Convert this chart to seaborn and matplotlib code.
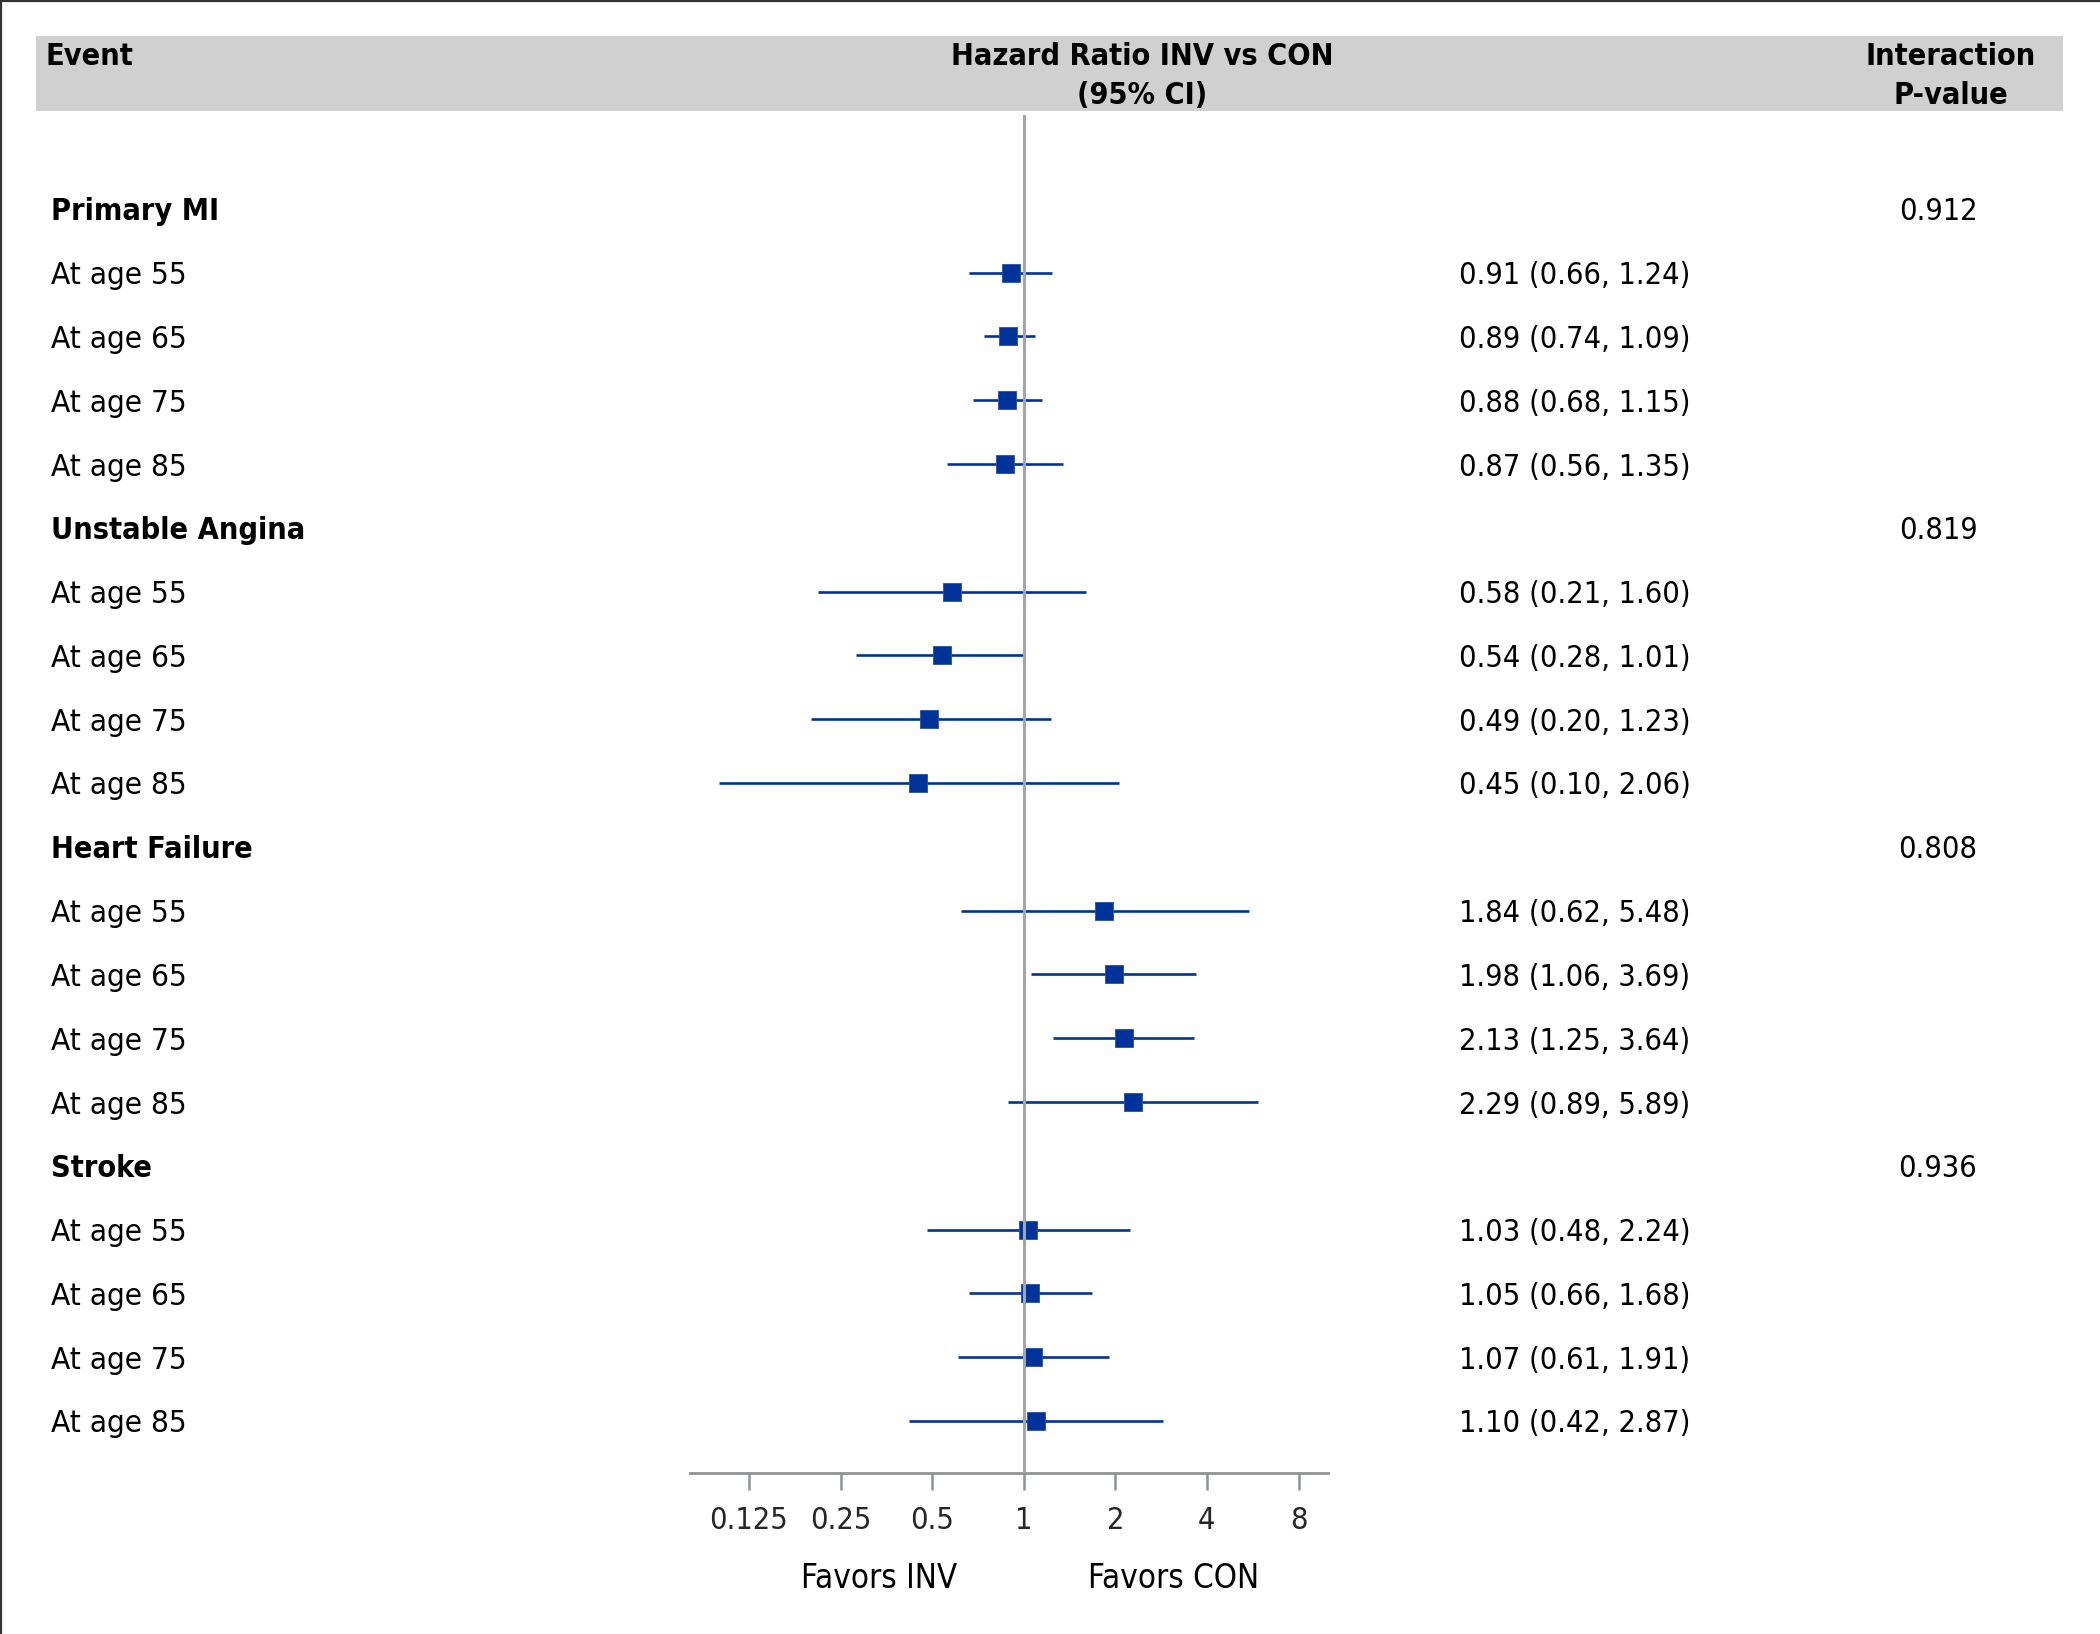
import numpy as np
import pandas as pd
import matplotlib
matplotlib.use("Agg")
import matplotlib.pyplot as plt
from matplotlib.lines import Line2D
from matplotlib.patches import Rectangle
import matplotlib.transforms as mtransforms
import seaborn as sns

# ---------------- data ----------------
groups = ["Primary MI", "Unstable Angina", "Heart Failure", "Stroke"]
p_values = ["0.912", "0.819", "0.808", "0.936"]
ages = ["At age 55", "At age 65", "At age 75", "At age 85"]

hr_primary_mi = [0.91, 0.89, 0.88, 0.87]
lo_primary_mi = [0.66, 0.74, 0.68, 0.56]
hi_primary_mi = [1.24, 1.09, 1.15, 1.35]

hr_unstable_angina = [0.58, 0.54, 0.49, 0.45]
lo_unstable_angina = [0.21, 0.28, 0.20, 0.10]
hi_unstable_angina = [1.60, 1.01, 1.23, 2.06]

hr_heart_failure = [1.84, 1.98, 2.13, 2.29]
lo_heart_failure = [0.62, 1.06, 1.25, 0.89]
hi_heart_failure = [5.48, 3.69, 3.64, 5.89]

hr_stroke = [1.03, 1.05, 1.07, 1.10]
lo_stroke = [0.48, 0.66, 0.61, 0.42]
hi_stroke = [2.24, 1.68, 1.91, 2.87]

tick_values = [0.125, 0.25, 0.5, 1, 2, 4, 8]
tick_labels = ["0.125", "0.25", "0.5", "1", "2", "4", "8"]

header_event = "Event"
header_hr = "Hazard Ratio INV vs CON\n(95% CI)"
header_p = "Interaction\nP-value"
favors_left = "Favors INV"
favors_right = "Favors CON"

# ---------------- build table ----------------
hr_all = [hr_primary_mi, hr_unstable_angina, hr_heart_failure, hr_stroke]
lo_all = [lo_primary_mi, lo_unstable_angina, lo_heart_failure, lo_stroke]
hi_all = [hi_primary_mi, hi_unstable_angina, hi_heart_failure, hi_stroke]

rows = []
row = 0
for g, pv, hrs, los, his in zip(groups, p_values, hr_all, lo_all, hi_all):
    rows.append(dict(row=row, label=g, bold=True, hr=np.nan, lo=np.nan, hi=np.nan, p=pv))
    row += 1
    for a, h, l, u in zip(ages, hrs, los, his):
        rows.append(dict(row=row, label=a, bold=False, hr=h, lo=l, hi=u, p=""))
        row += 1
df = pd.DataFrame(rows)
est = df.dropna(subset=["hr"])

# ---------------- figure ----------------
sns.set_theme(style="white")
plt.rcParams["font.family"] = ["DejaVu Sans", "DejaVu Sans"]
FS = 22
W, H = 2100, 1634
fig = plt.figure(figsize=(W / 100, H / 100), dpi=100)

def fx(px):
    return px / W

def fy(py):
    return 1 - py / H

font_kw = dict(fontstretch="condensed", color="black", fontsize=FS)

# frame edges (left, top)
fig.add_artist(Line2D([fx(1), fx(1)], [0, 1], color="#333333", lw=1.6, transform=fig.transFigure))
fig.add_artist(Line2D([0, 1], [fy(1), fy(1)], color="#333333", lw=1.6, transform=fig.transFigure))

# header band
fig.add_artist(Rectangle((fx(36), fy(111)), fx(2063) - fx(36), fy(36) - fy(111),
                         transform=fig.transFigure, facecolor="#d0d0d0", edgecolor="none", zorder=0))
fig.text(fx(46), fy(65), header_event, ha="left", va="baseline", fontweight="bold", **font_kw)
for i, line in enumerate(header_hr.split("\n")):
    fig.text(fx(1142), fy(65 + 39 * i), line, ha="center", va="baseline", fontweight="bold", **font_kw)
for i, line in enumerate(header_p.split("\n")):
    fig.text(fx(1951), fy(65 + 39 * i), line, ha="center", va="baseline", fontweight="bold", **font_kw)

# forest axes
ax_left, ax_right, ax_top, ax_bot = 690, 1328, 115, 1473
ax = fig.add_axes([fx(ax_left), fy(ax_bot), fx(ax_right - ax_left), fy(ax_top) - fy(ax_bot)])
ax.set_xscale("log", base=2)
ax.set_xlim(0.08, 10)
row0, step = 208.8, 63.8
ax.set_ylim((ax_bot - row0) / step, (ax_top - row0) / step)

blue = "#003399"
ax.hlines(est["row"], est["lo"], est["hi"], color=blue, lw=1.9, zorder=2)
sns.scatterplot(data=est, x="hr", y="row", marker="s", s=150, color=blue,
                edgecolor="#2850a8", linewidth=0.6, ax=ax, zorder=3, legend=False)
ax.axvline(1, color="#a3a6aa", lw=2.2, zorder=4)

ax.set_xticks(tick_values)
ax.set_xticklabels(tick_labels)
ax.xaxis.set_minor_locator(matplotlib.ticker.NullLocator())
ax.set_yticks([])
ax.set_xlabel("")
ax.set_ylabel("")
for s in ["top", "left", "right"]:
    ax.spines[s].set_visible(False)
ax.spines["bottom"].set_color("#8f9296")
ax.spines["bottom"].set_linewidth(2.0)
ax.tick_params(axis="x", bottom=True, direction="out", length=12, width=1.8,
               color="#8f9296", pad=11.5, labelsize=FS)
for t in ax.get_xticklabels():
    t.set_fontstretch("condensed")
ax.patch.set_alpha(0)

# text columns
trans = mtransforms.blended_transform_factory(fig.transFigure, ax.transData)
for _, r in df.iterrows():
    lab_kw = dict(font_kw)
    if not r["bold"]:
        lab_kw["fontsize"] = 22.6
    t = fig.text(fx(51), 0, r["label"], transform=trans, ha="left", va="center_baseline",
                 fontweight="bold" if r["bold"] else "normal", **lab_kw)
    t.set_y(r["row"])
    if not np.isnan(r["hr"]):
        txt = f"{r['hr']:.2f} ({r['lo']:.2f}, {r['hi']:.2f})"
        t = fig.text(fx(1459), 0, txt, transform=trans, ha="left", va="center_baseline", **font_kw)
        t.set_y(r["row"])
    if r["p"]:
        t = fig.text(fx(1938), 0, r["p"], transform=trans, ha="center", va="center_baseline", **font_kw)
        t.set_y(r["row"])

fav_kw = dict(font_kw)
fav_kw["fontsize"] = 23.8
fig.text(fx(879), fy(1578), favors_left, ha="center", va="center", **fav_kw)
fig.text(fx(1174), fy(1578), favors_right, ha="center", va="center", **fav_kw)

fig.savefig("out.png", dpi=100, facecolor="white")
